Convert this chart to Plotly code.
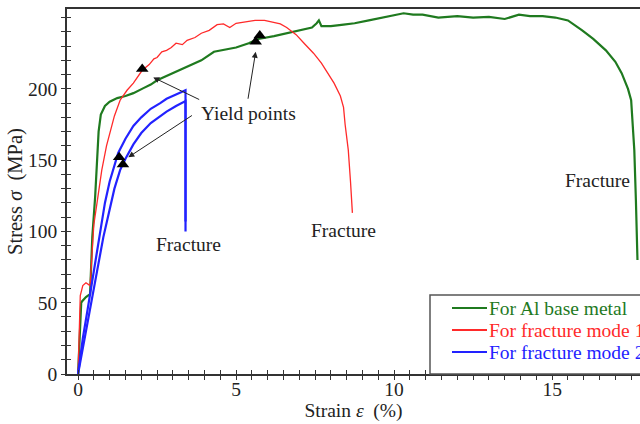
import plotly.graph_objects as go

# ---- data ----
green_x = [0, 0.05, 0.1, 0.13, 0.25, 0.38, 0.42, 0.45, 0.54, 0.6, 0.65, 0.72, 0.85, 1.0, 1.24, 1.5, 1.75,
           2.07, 2.3, 2.5, 2.8, 3.1, 3.5, 3.9, 4.3, 4.5, 5.0, 5.4, 5.7, 6.2, 6.6, 7.0, 7.4, 7.55, 7.62,
           7.7, 8.0, 8.4, 8.75, 9.2, 9.6, 10.0, 10.3, 10.6, 10.9, 11.4, 12.0, 12.5, 13.0, 13.5, 13.95,
           14.3, 14.7, 15.1, 15.5, 15.95, 16.3, 16.7, 17.0, 17.2, 17.4, 17.5, 17.55, 17.6, 17.65, 17.7]
green_y = [0, 25, 50, 51, 54, 56, 75, 96, 124, 150, 170, 182, 188, 191, 193.5, 195, 197,
           200.5, 203, 206, 209, 212, 216, 220, 226, 227, 229, 232, 235, 237, 239, 241, 243, 246, 248,
           244, 244, 245, 246, 248, 250, 252, 253, 252, 252, 250, 251, 250, 250.5, 249, 252,
           251, 251, 250, 248, 241, 235, 227, 219, 211, 200, 192, 175, 157, 122, 80]

red_x = [0, 0.04, 0.07, 0.15, 0.25, 0.38, 0.45, 0.5, 0.6, 0.75, 0.9, 1.0, 1.15, 1.33, 1.55, 1.75, 2.03,
         2.25, 2.4, 2.5, 2.65, 2.8, 2.95, 3.1, 3.3, 3.45, 3.7, 3.9, 4.15, 4.4, 4.6, 4.8, 5.0, 5.3,
         5.6, 5.9, 6.1, 6.4, 6.6, 6.9, 7.15, 7.45, 7.7, 7.9, 8.1, 8.3, 8.4, 8.45, 8.5, 8.55, 8.62, 8.68]
red_y = [0, 30, 55, 62, 64, 62, 90, 105, 120, 143, 160, 169, 181, 192, 199, 204, 213,
         217, 221, 222, 226, 227, 229, 232, 231, 234, 236, 239, 241, 245, 245.5, 243, 246, 247,
         248, 248, 247, 245.5, 243, 238, 232, 225, 218, 211, 204, 195, 187, 175, 165, 157, 135, 113]

blue1_x = [0, 0.15, 0.3, 0.5, 0.7, 0.85, 1.0, 1.27, 1.5, 1.75, 2.0, 2.3, 2.6, 2.8, 3.1, 3.4, 3.4]
blue1_y = [0, 25, 45, 72, 100, 120, 135, 155, 165, 174, 180, 186, 190, 193, 196, 199, 107]
blue2_x = [0, 0.2, 0.4, 0.6, 0.8, 1.0, 1.15, 1.33, 1.5, 1.75, 2.0, 2.3, 2.6, 2.8, 3.1, 3.4, 3.4]
blue2_y = [0, 25, 48, 72, 96, 115, 130, 143, 151, 161, 169, 176, 181, 184, 188, 191.5, 100]

yield_x = [2.03, 5.62, 5.75, 1.3, 1.42]
yield_y = [214, 233, 237.5, 152, 147]

x_ticks = [0, 5, 10, 15]
y_ticks = [0, 50, 100, 150, 200]

legend_names = ["For Al base metal", "For fracture mode 1", "For fracture mode 2"]

GREEN = "#1f7a1f"
RED = "#ff2a2a"
BLUE = "#2222ff"
legend_colors = [GREEN, RED, BLUE]
FONT = "Liberation Serif"
FS = 19.5

fig = go.Figure()
fig.add_trace(go.Scatter(x=green_x, y=green_y, mode="lines", line=dict(color=GREEN, width=2.2),
                         name=legend_names[0]))
fig.add_trace(go.Scatter(x=red_x, y=red_y, mode="lines", line=dict(color=RED, width=1.3),
                         name=legend_names[1]))
fig.add_trace(go.Scatter(x=blue1_x, y=blue1_y, mode="lines", line=dict(color=BLUE, width=2.2),
                         name=legend_names[2]))
fig.add_trace(go.Scatter(x=blue2_x, y=blue2_y, mode="lines", line=dict(color=BLUE, width=2.2),
                         name=legend_names[2]))
fig.add_trace(go.Scatter(x=yield_x, y=yield_y, mode="markers", name="Yield points",
                         marker=dict(symbol="triangle-up", size=11, color="black")))
# dummy trace for the overlay axes (inside half of the crossed ticks)
fig.add_trace(go.Scatter(x=[None], y=[None], xaxis="x2", yaxis="y2"))

XR = [-0.35, 17.78]
YR = [0, 256]
tickfont = dict(family=FONT, size=FS, color="#222")

fig.update_layout(
    width=640, height=424, margin=dict(l=67, r=0, t=9, b=50),
    paper_bgcolor="white", plot_bgcolor="white", showlegend=False,
    font=dict(family=FONT, size=FS, color="#222"),
    xaxis=dict(range=XR, tickvals=x_ticks, ticks="outside", ticklen=4, tickwidth=1, tickcolor="#333",
               minor=dict(dtick=0.5, tick0=0, ticks="outside", ticklen=4, tickcolor="#333"),
               showline=True, linecolor="#333", linewidth=1.5, mirror=True, showgrid=False, zeroline=False,
               tickfont=tickfont, ticklabelstandoff=-7,
               title=dict(text="Strain <i>ε</i>\u2002(%)", font=dict(family=FONT, size=FS), standoff=4)),
    yaxis=dict(range=YR, tickvals=y_ticks, ticks="outside", ticklen=4, tickwidth=1, tickcolor="#333",
               minor=dict(dtick=10, tick0=0, ticks="outside", ticklen=4, tickcolor="#333"),
               showline=True, linecolor="#333", linewidth=1.5, mirror=False, showgrid=False, zeroline=False,
               tickfont=tickfont,
               title=dict(text="Stress <i>σ</i>\u2002(MPa)", font=dict(family=FONT, size=20.5), standoff=0)),
    xaxis2=dict(range=XR, overlaying="x", tickvals=x_ticks, ticks="inside", ticklen=4, tickcolor="#333",
                minor=dict(dtick=0.5, tick0=0, ticks="inside", ticklen=4, tickcolor="#333"),
                showticklabels=False, showgrid=False, zeroline=False, showline=False),
    yaxis2=dict(range=YR, overlaying="y", tickvals=y_ticks, ticks="inside", ticklen=4, tickcolor="#333",
                minor=dict(dtick=10, tick0=0, ticks="inside", ticklen=4, tickcolor="#333"),
                showticklabels=False, showgrid=False, zeroline=False, showline=False),
)

# ---- legend box drawn in paper coordinates ----
PW, PH = 640 - 67, 424 - 9 - 50
def px(xp):
    return (xp - 67) / PW
def py(yp):
    return (374 - yp) / PH

fig.add_shape(type="rect", xref="paper", yref="paper", x0=px(430), x1=px(660), y0=0, y1=py(295),
              line=dict(color="#555", width=1.5), fillcolor="white", layer="above")
for i, (name, col) in enumerate(zip(legend_names, legend_colors)):
    yy = py(308 + 22 * i)
    fig.add_shape(type="line", xref="paper", yref="paper", x0=px(452), x1=px(487), y0=yy, y1=yy,
                  line=dict(color=col, width=2.2), layer="above")
    fig.add_annotation(xref="paper", yref="paper", x=px(487), y=yy, xanchor="left", yanchor="middle",
                       text=name, showarrow=False, font=dict(family=FONT, size=FS, color=col))

ann_font = dict(family=FONT, size=FS, color="#222")
fig.add_annotation(x=5.4, y=183, text="Yield points", showarrow=False, font=ann_font)
for hx, hy, tx, ty in [(2.38, 208, 3.88, 192), (1.59, 152, 3.65, 182), (5.62, 226, 5.37, 192)]:
    fig.add_annotation(x=hx, y=hy, ax=tx, ay=ty, axref="x", ayref="y", text="", showarrow=True,
                       arrowhead=2, arrowsize=1.2, arrowwidth=1, arrowcolor="#222")
fig.add_annotation(x=3.5, y=90.5, text="Fracture", showarrow=False, font=ann_font)
fig.add_annotation(x=8.4, y=101, text="Fracture", showarrow=False, font=ann_font)
fig.add_annotation(x=16.45, y=136, text="Fracture", showarrow=False, font=ann_font)

fig.write_html("out.html")
